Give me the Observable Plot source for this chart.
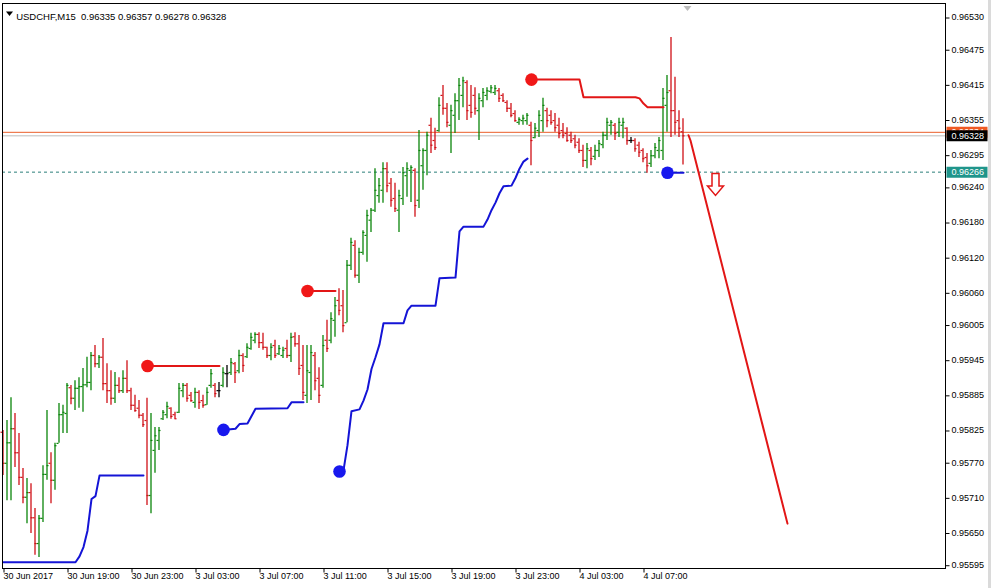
<!DOCTYPE html>
<html>
<head>
<meta charset="utf-8">
<script src="https://cdn.jsdelivr.net/npm/d3@7"></script>
<script src="https://cdn.jsdelivr.net/npm/@observablehq/plot@0.6"></script>
<style>
  body { margin: 0; background: #fff; }
  #wrap { position: relative; width: 991px; height: 588px; overflow: hidden; }
  #edge { position: absolute; right: 0; top: 0; width: 3px; height: 588px; background: #dadada; }
</style>
</head>
<body>
<div id="wrap"><div id="edge"></div></div>
<script>
// ---- instrument / header ----
const symbolName = "USDCHF,M15";
const lastQuote = [0.96335, 0.96357, 0.96278, 0.96328]; // O H L C of the current bar

// ---- time axis (bar index -> label), one label every 16 bars (4 hours of M15) ----
const timeTickIndex = [0, 16, 32, 48, 64, 80, 96, 112, 128, 144, 160];
const timeLabels = ["30 Jun 2017", "30 Jun 19:00", "30 Jun 23:00", "3 Jul 03:00", "3 Jul 07:00",
  "3 Jul 11:00", "3 Jul 15:00", "3 Jul 19:00", "3 Jul 23:00", "4 Jul 03:00", "4 Jul 07:00"];

// ---- price axis labels ----
const priceTicks = [0.96530, 0.96475, 0.96415, 0.96355, 0.96295, 0.96240, 0.96180, 0.96120, 0.96060,
  0.96005, 0.95945, 0.95885, 0.95825, 0.95770, 0.95710, 0.95650, 0.95595];

// ---- OHLC, one entry per M15 bar ----
const open = [
0.95822,0.95769,0.95804,0.95828,0.95787,0.95745,0.95711,0.95719,0.95676,0.95632,
0.95675,0.95750,0.95769,0.95740,0.95803,0.95852,0.95854,0.95898,0.95880,0.95897,
0.95900,0.95903,0.95907,0.95953,0.95939,0.95950,0.95905,0.95893,0.95880,0.95902,
0.95893,0.95914,0.95893,0.95868,0.95863,0.95851,0.95842,0.95714,0.95791,0.95808,
0.95845,0.95852,0.95863,0.95852,0.95856,0.95893,0.95902,0.95885,0.95873,0.95890,
0.95876,0.95869,0.95902,0.95902,0.95893,0.95902,0.95922,0.95924,0.95939,0.95927,
0.95953,0.95951,0.95965,0.95979,0.95989,0.95975,0.95967,0.95953,0.95970,0.95956,
0.95953,0.95965,0.95953,0.95985,0.95973,0.95936,0.95885,0.95924,0.95953,0.95914,
0.95902,0.95979,0.95979,0.96013,0.96047,0.96038,0.96009,0.96107,0.96141,0.96090,
0.96129,0.96158,0.96184,0.96201,0.96226,0.96235,0.96272,0.96247,0.96221,0.96201,
0.96221,0.96260,0.96269,0.96269,0.96218,0.96277,0.96303,0.96346,0.96320,0.96337,
0.96397,0.96375,0.96346,0.96363,0.96388,0.96397,0.96419,0.96380,0.96397,0.96371,
0.96388,0.96397,0.96404,0.96402,0.96405,0.96397,0.96385,0.96375,0.96366,0.96351,
0.96354,0.96354,0.96346,0.96325,0.96337,0.96354,0.96371,0.96363,0.96354,0.96346,
0.96337,0.96332,0.96329,0.96323,0.96317,0.96303,0.96286,0.96303,0.96293,0.96303,
0.96313,0.96329,0.96346,0.96346,0.96334,0.96346,0.96341,0.96320,0.96320,0.96312,
0.96303,0.96291,0.96281,0.96294,0.96303,0.96303,0.96380,0.96405,0.96371,0.96354,
0.96335];
const high = [
0.95825,0.95842,0.95881,0.95854,0.95820,0.95760,0.95743,0.95734,0.95692,0.95680,
0.95765,0.95859,0.95787,0.95803,0.95871,0.95868,0.95905,0.95902,0.95910,0.95915,
0.95931,0.95950,0.95958,0.95970,0.95953,0.95982,0.95939,0.95927,0.95924,0.95915,
0.95927,0.95944,0.95897,0.95885,0.95876,0.95854,0.95880,0.95854,0.95830,0.95830,
0.95859,0.95873,0.95864,0.95856,0.95905,0.95905,0.95905,0.95890,0.95897,0.95893,
0.95885,0.95898,0.95929,0.95905,0.95907,0.95932,0.95936,0.95948,0.95941,0.95962,
0.95956,0.95973,0.95991,0.95992,0.95992,0.95991,0.95967,0.95973,0.95979,0.95970,
0.95967,0.95979,0.95991,0.95992,0.95987,0.95970,0.95970,0.95970,0.95958,0.95932,
0.95987,0.96013,0.96026,0.96052,0.96067,0.96064,0.96115,0.96153,0.96149,0.96136,
0.96166,0.96201,0.96204,0.96272,0.96255,0.96282,0.96282,0.96255,0.96247,0.96235,
0.96274,0.96282,0.96277,0.96272,0.96337,0.96306,0.96334,0.96358,0.96341,0.96393,
0.96414,0.96383,0.96380,0.96400,0.96426,0.96428,0.96422,0.96414,0.96410,0.96400,
0.96409,0.96410,0.96414,0.96414,0.96409,0.96400,0.96388,0.96383,0.96371,0.96359,
0.96363,0.96366,0.96351,0.96349,0.96371,0.96392,0.96375,0.96371,0.96366,0.96358,
0.96349,0.96342,0.96334,0.96329,0.96323,0.96312,0.96315,0.96308,0.96312,0.96320,
0.96334,0.96358,0.96354,0.96349,0.96358,0.96358,0.96342,0.96325,0.96323,0.96317,
0.96306,0.96298,0.96303,0.96315,0.96325,0.96409,0.96431,0.96496,0.96428,0.96371,
0.96357];
const low = [
0.95748,0.95705,0.95705,0.95762,0.95731,0.95700,0.95666,0.95649,0.95612,0.95608,
0.95668,0.95740,0.95700,0.95723,0.95803,0.95820,0.95820,0.95869,0.95859,0.95863,
0.95856,0.95898,0.95893,0.95932,0.95931,0.95893,0.95871,0.95868,0.95871,0.95888,
0.95888,0.95888,0.95859,0.95856,0.95845,0.95830,0.95697,0.95683,0.95752,0.95791,
0.95842,0.95845,0.95844,0.95844,0.95854,0.95881,0.95873,0.95873,0.95863,0.95861,
0.95863,0.95868,0.95897,0.95881,0.95881,0.95898,0.95898,0.95919,0.95905,0.95922,
0.95924,0.95948,0.95962,0.95973,0.95965,0.95962,0.95948,0.95944,0.95948,0.95953,
0.95948,0.95948,0.95941,0.95967,0.95919,0.95876,0.95871,0.95876,0.95893,0.95871,
0.95897,0.95958,0.95973,0.95984,0.96021,0.95992,0.96009,0.96098,0.96085,0.96076,
0.96124,0.96112,0.96163,0.96197,0.96213,0.96213,0.96231,0.96206,0.96197,0.96163,
0.96209,0.96223,0.96214,0.96189,0.96204,0.96235,0.96260,0.96298,0.96303,0.96334,
0.96363,0.96342,0.96298,0.96332,0.96354,0.96376,0.96354,0.96358,0.96363,0.96320,
0.96376,0.96388,0.96400,0.96397,0.96385,0.96385,0.96368,0.96359,0.96351,0.96346,
0.96346,0.96346,0.96277,0.96323,0.96325,0.96334,0.96342,0.96346,0.96334,0.96323,
0.96323,0.96317,0.96315,0.96306,0.96298,0.96274,0.96272,0.96277,0.96286,0.96291,
0.96306,0.96320,0.96329,0.96320,0.96325,0.96323,0.96312,0.96315,0.96300,0.96291,
0.96282,0.96264,0.96274,0.96289,0.96289,0.96286,0.96334,0.96325,0.96329,0.96325,
0.96278];
const close = [
0.95769,0.95804,0.95828,0.95787,0.95745,0.95711,0.95719,0.95676,0.95632,0.95675,
0.95750,0.95765,0.95740,0.95799,0.95852,0.95856,0.95902,0.95880,0.95897,0.95900,
0.95903,0.95907,0.95953,0.95939,0.95950,0.95905,0.95893,0.95880,0.95902,0.95893,
0.95914,0.95893,0.95868,0.95859,0.95851,0.95835,0.95714,0.95808,0.95816,0.95825,
0.95856,0.95866,0.95849,0.95845,0.95897,0.95902,0.95880,0.95876,0.95890,0.95873,
0.95868,0.95890,0.95922,0.95888,0.95893,0.95924,0.95922,0.95941,0.95924,0.95953,
0.95936,0.95967,0.95984,0.95989,0.95975,0.95967,0.95953,0.95967,0.95953,0.95965,
0.95962,0.95953,0.95984,0.95973,0.95931,0.95890,0.95927,0.95958,0.95910,0.95885,
0.95970,0.95965,0.96016,0.96038,0.96030,0.96004,0.96107,0.96146,0.96090,0.96129,
0.96163,0.96192,0.96201,0.96235,0.96243,0.96272,0.96243,0.96218,0.96204,0.96226,
0.96265,0.96272,0.96274,0.96209,0.96303,0.96303,0.96329,0.96312,0.96308,0.96380,
0.96375,0.96351,0.96371,0.96388,0.96414,0.96422,0.96371,0.96368,0.96375,0.96392,
0.96402,0.96405,0.96410,0.96409,0.96392,0.96388,0.96375,0.96363,0.96354,0.96356,
0.96358,0.96363,0.96320,0.96341,0.96363,0.96380,0.96354,0.96351,0.96342,0.96332,
0.96329,0.96320,0.96320,0.96312,0.96303,0.96286,0.96306,0.96289,0.96303,0.96315,
0.96329,0.96351,0.96351,0.96332,0.96351,0.96351,0.96320,0.96320,0.96306,0.96300,
0.96289,0.96277,0.96294,0.96308,0.96320,0.96392,0.96402,0.96371,0.96351,0.96341,
0.96328];

// ---- indicator: support (blue) and resistance (red) levels, [bar index, price] ----
const supportA = [[0,0.95600],[18,0.95600],[19,0.95610],[20,0.95626],[21,0.95654],[22,0.95708],[23,0.95713],[24,0.95748],[35,0.95748]];
const supportB = [[55,0.95826],[58,0.95828],[59,0.95836],[61,0.95837],[63,0.95862],[71,0.95863],[72,0.95873],[75,0.95873]];
const supportC = [[84,0.95755],[85,0.95757],[86,0.95800],[87,0.95858],[89,0.95861],[90,0.95876],[91,0.95895],[92,0.95930],
  [93,0.95950],[94,0.95972],[95,0.96008],[100,0.96008],[101,0.96030],[102,0.96038],[108,0.96038],[109,0.96085],[113,0.96086],
  [114,0.96165],[115,0.96173],[120,0.96173],[121,0.96185],[122,0.96201],[123,0.96214],[124,0.96230],[125,0.96242],[127,0.96243],
  [128,0.96256],[129,0.96272],[130,0.96284],[131,0.96289]];
const supportD = [[166,0.96265],[170,0.96265]];
const resistanceA = [[36,0.95935],[54,0.95935]];
const resistanceB = [[76,0.96063],[83,0.96063]];
const resistanceC = [[132,0.96424],[144,0.96424],[145,0.96394],[158,0.96394],[159,0.96392],[160,0.96383],[161,0.96377],[165,0.96377]];

// ---- projection line and sell signal ----
const projection = [[171.25,0.96329],[171.75,0.96320],[196,0.95666]];
const sellSignal = [[178, 0.96245]];

// ---- horizontal price lines ----
const askPrice = 0.96334;
const bidPrice = 0.96328;
const levelPrice = 0.96266;

// ---------------------------------------------------------------------------
const bars = open.map((o, i) => ({i, open: o, high: high[i], low: low[i], close: close[i]}));
const upBars = bars.filter(d => d.close > d.open);
const downBars = bars.filter(d => d.close < d.open);
const flatBars = bars.filter(d => d.close === d.open);

const RED = "#e21616", BLUE = "#1414d6";
const FONT = "Liberation Sans, Arial, sans-serif";
const FS = 9;

// OHLC bar: high-low stem, open tick to the left, close tick to the right
const ohlc = (data, stroke) => [
  Plot.ruleX(data, {x: "i", y1: "low", y2: "high", stroke, strokeWidth: 1.3, dx: -0.5}),
  Plot.ruleY(data, {y: "open", x1: d => d.i - 0.5, x2: "i", stroke, strokeWidth: 1.2, dx: -0.5}),
  Plot.ruleY(data, {y: "close", x1: "i", x2: d => d.i + 0.5, stroke, strokeWidth: 1.2, dx: -0.5})
];

// small custom symbols for axis ticks, price tags and arrows
const tickDown = {draw(c) { c.moveTo(0.5, 0); c.lineTo(0.5, 4); }};
const tickRight = {draw(c) { c.moveTo(0, 0.5); c.lineTo(4, 0.5); }};
const priceTag = {draw(c) { c.rect(1, -5.5, 41, 11); }};
const headTriangle = {draw(c) { c.moveTo(-3.5, -2); c.lineTo(3.5, -2); c.lineTo(0, 2.5); c.closePath(); }};
const shiftTriangle = {draw(c) { c.moveTo(-4, -2.5); c.lineTo(4, -2.5); c.lineTo(0, 2.5); c.closePath(); }};
const hollowArrow = {draw(c) {
  c.moveTo(-3.5, -11); c.lineTo(3.5, -11); c.lineTo(3.5, 1.5); c.lineTo(8, 1.5);
  c.lineTo(0, 11); c.lineTo(-8, 1.5); c.lineTo(-3.5, 1.5); c.closePath();
}};

const levelLine = (data, stroke) => Plot.line(data, {x: d => d[0], y: d => d[1], stroke, strokeWidth: 2});
const levelDot = (data, fill) => Plot.dot([data[0]], {x: d => d[0], y: d => d[1], r: 6.3, fill, stroke: "none"});
const priceLabel = (price, bg) => [
  Plot.dot([price], {y: d => d, frameAnchor: "right", symbol: priceTag, fill: bg, stroke: "none"}),
  Plot.text([price], {y: d => d, frameAnchor: "right", dx: 6, textAnchor: "start", text: d => d.toFixed(5),
    fill: "white", fontSize: FS, fontFamily: FONT})
];

const titleText = "\u00a0" + symbolName + "\u00a0\u00a0" + lastQuote.map(v => v.toFixed(5)).join(" ");

const chart = Plot.plot({
  width: 991,
  height: 588,
  marginLeft: 2,
  marginRight: 46,
  marginTop: 3,
  marginBottom: 20,
  x: {domain: [-0.25, 235.5], axis: null},
  y: {domain: [0.955894, 0.965539], axis: null},
  style: {fontFamily: FONT, fontSize: FS + "px", background: "white", color: "black", overflow: "visible"},
  marks: [
    // horizontal price lines
    Plot.ruleY([askPrice], {stroke: "#ea5f2a", strokeWidth: 1}),
    Plot.ruleY([bidPrice], {stroke: "#bdbdbd", strokeWidth: 1}),
    Plot.ruleY([levelPrice], {stroke: "#2a7f7a", strokeWidth: 1, strokeDasharray: "3,3"}),

    // OHLC bars
    ...ohlc(upBars, "#0a850a"),
    ...ohlc(downBars, "#d01016"),
    ...ohlc(flatBars, "#000000"),

    // support / resistance levels
    levelLine(supportA, BLUE), levelLine(supportB, BLUE), levelLine(supportC, BLUE), levelLine(supportD, BLUE),
    levelLine(resistanceA, RED), levelLine(resistanceB, RED), levelLine(resistanceC, RED),
    levelDot(supportB, "#1818ee"), levelDot(supportC, "#1818ee"), levelDot(supportD, "#1818ee"),
    levelDot(resistanceA, "#f01818"), levelDot(resistanceB, "#f01818"), levelDot(resistanceC, "#f01818"),

    // projection and signal arrow
    Plot.line(projection, {x: d => d[0], y: d => d[1], stroke: RED, strokeWidth: 2}),
    Plot.dot(sellSignal, {x: d => d[0], y: d => d[1], symbol: hollowArrow, fill: "white", stroke: RED, strokeWidth: 1.5}),

    // frame
    Plot.frame({stroke: "black"}),

    // chart shift marker
    Plot.dot([bars.length], {x: d => d, frameAnchor: "top", dy: 5, symbol: shiftTriangle, fill: "#bcbcbc", stroke: "none"}),

    // time axis
    Plot.dot(timeTickIndex, {x: d => d, frameAnchor: "bottom", symbol: tickDown, fill: "none", stroke: "black", strokeWidth: 1}),
    Plot.text(timeTickIndex, {x: d => d, frameAnchor: "bottom", dy: 10, dx: 0, textAnchor: "start",
      text: (d, i) => timeLabels[i], fill: "black", fontSize: FS, fontFamily: FONT}),

    // price axis
    Plot.dot(priceTicks, {y: d => d, frameAnchor: "right", symbol: tickRight, fill: "none", stroke: "black", strokeWidth: 1}),
    Plot.text(priceTicks, {y: d => d, frameAnchor: "right", dx: 6, textAnchor: "start",
      text: d => d.toFixed(5), fill: "black", fontSize: FS, fontFamily: FONT}),

    // current price tags
    ...priceLabel(askPrice, "#ef5a24"),
    ...priceLabel(bidPrice, "#000000"),
    ...priceLabel(levelPrice, "#1f958b"),

    // header
    Plot.dot([0], {frameAnchor: "top-left", dx: 7, dy: 10, symbol: headTriangle, fill: "black", stroke: "none"}),
    Plot.text([titleText], {frameAnchor: "top-left", dx: 11, dy: 10, textAnchor: "start", text: d => d,
      fill: "black", fontSize: FS + 0.5, fontFamily: FONT})
  ]
});

document.getElementById("wrap").prepend(chart);
</script>
</body>
</html>
